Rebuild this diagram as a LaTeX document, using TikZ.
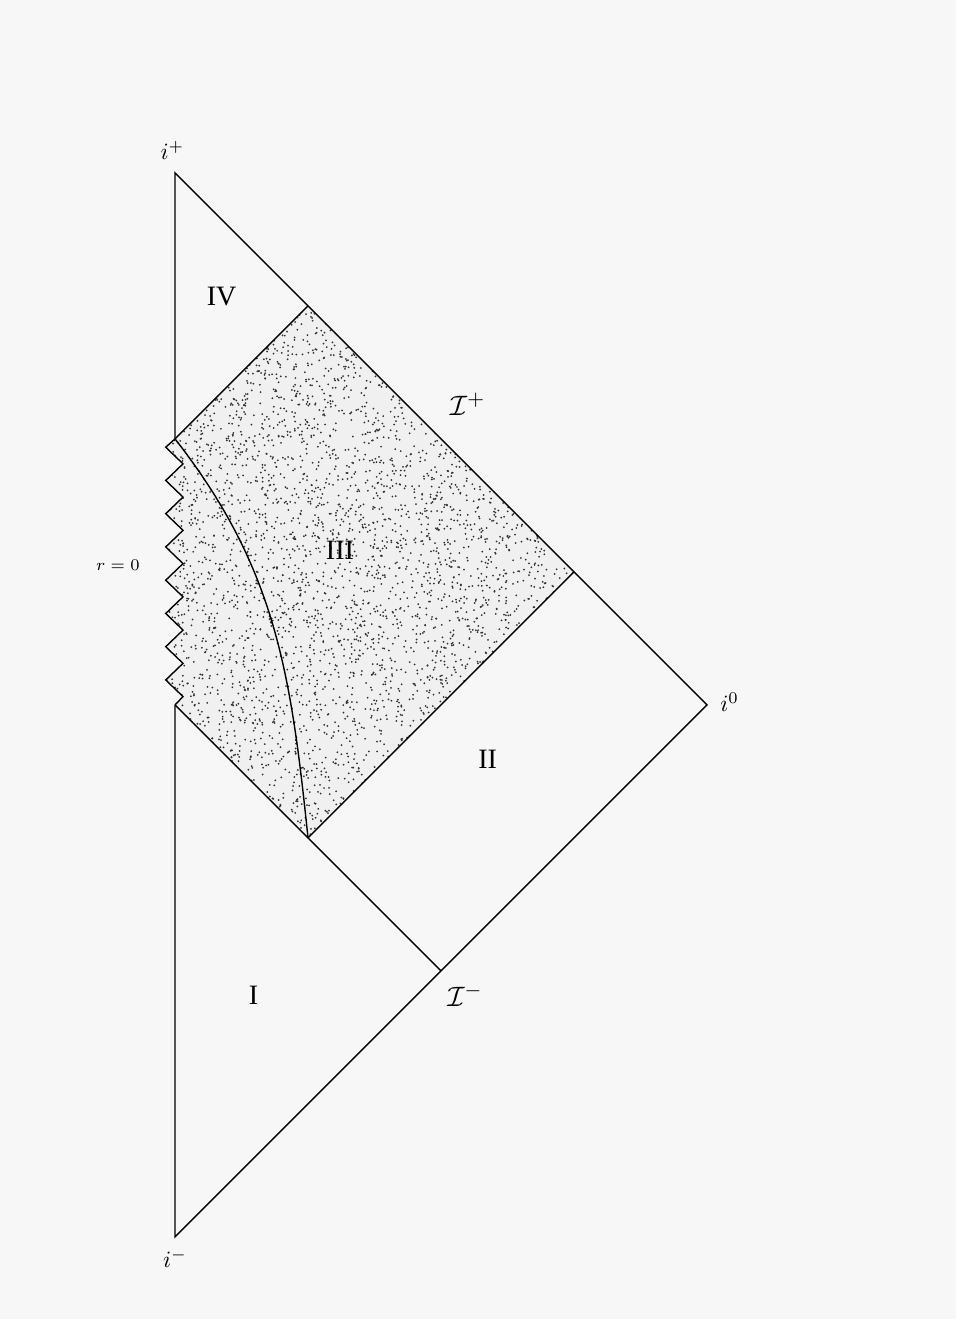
\documentclass[tikz,border=0pt]{standalone}
\usepackage{fontspec}
\setmainfont{Liberation Serif}
\tikzset{
  edge/.style={line width=0.6pt},
  region/.style={font=\fontsize{12}{14}\selectfont},
  bound/.style={font=\fontsize{10}{12}\selectfont, inner sep=1pt},
  scri/.style={font=\fontsize{13}{15}\selectfont, inner sep=1pt},
}
\begin{document}
\begin{tikzpicture}[scale=2]
  \fill[black!3] (-1.316,-4.617) rectangle (5.872,5.30);
  \useasboundingbox (-1.316,-4.617) rectangle (5.872,5.30);
  % corners of the diagram
  \coordinate (ip) at (0,4);
  \coordinate (io) at (4,0);
  \coordinate (im) at (0,-4);
  \coordinate (sa) at (0,2);
  \coordinate (sb) at (1,3);
  \coordinate (sc) at (3,1);
  \coordinate (sd) at (1,-1);
  \coordinate (se) at (0,0);
  \coordinate (sf) at (2,-2);
  % shaded region
  \begin{scope}
    \clip (se) -- (sd) -- (sc) -- (sb) -- (sa)
      \foreach \k in {0,...,7} { -- (-0.07,{1.9375-0.25*\k}) -- (0.06,{1.8125-0.25*\k}) } -- cycle;
    \fill[black!6] (-0.2,-1.1) rectangle (3.1,3.1);
    \pgfmathsetseed{42}
    \foreach \i in {1,...,5500}
      \fill[black!80] ({-0.1+3.2*rnd},{-1+4*rnd}) circle (0.0075);
  \end{scope}
  % edges
  \draw[edge] (sa) -- (ip) -- (io) -- (im) -- (se);
  \draw[edge] (sa) \foreach \k in {0,...,7} { -- (-0.07,{1.9375-0.25*\k}) -- (0.06,{1.8125-0.25*\k}) } -- (se);
  \draw[edge] (sa) -- (sb);
  \draw[edge] (se) -- (sd) -- (sf);
  \draw[edge] (sd) -- (sc);
  \draw[edge] (sa) to[out=-52,in=96] (sd);
  % labels
  \node[bound] (lip) at (-0.02,4.17) {$i^+$};
  \node[bound] (lio) at (4.17,0.02) {$i^0$};
  \node[bound] (lim) at (0,-4.16) {$i^-$};
  \node[scri] (lsp) at (2.2,2.26) {$\mathcal{I}^+$};
  \node[scri] (lsm) at (2.18,-2.18) {$\mathcal{I}^-$};
  \node[region] (rIV) at (0.35,3.07) {IV};
  \node[region] (rIII) at (1.24,1.16) {III};
  \node[region] (rII) at (2.35,-0.41) {II};
  \node[region] (rI) at (0.59,-2.18) {I};
  \node[font=\fontsize{7}{8}\selectfont] (rzero) at (-0.43,1.05) {$r=0$};
\end{tikzpicture}
\end{document}
